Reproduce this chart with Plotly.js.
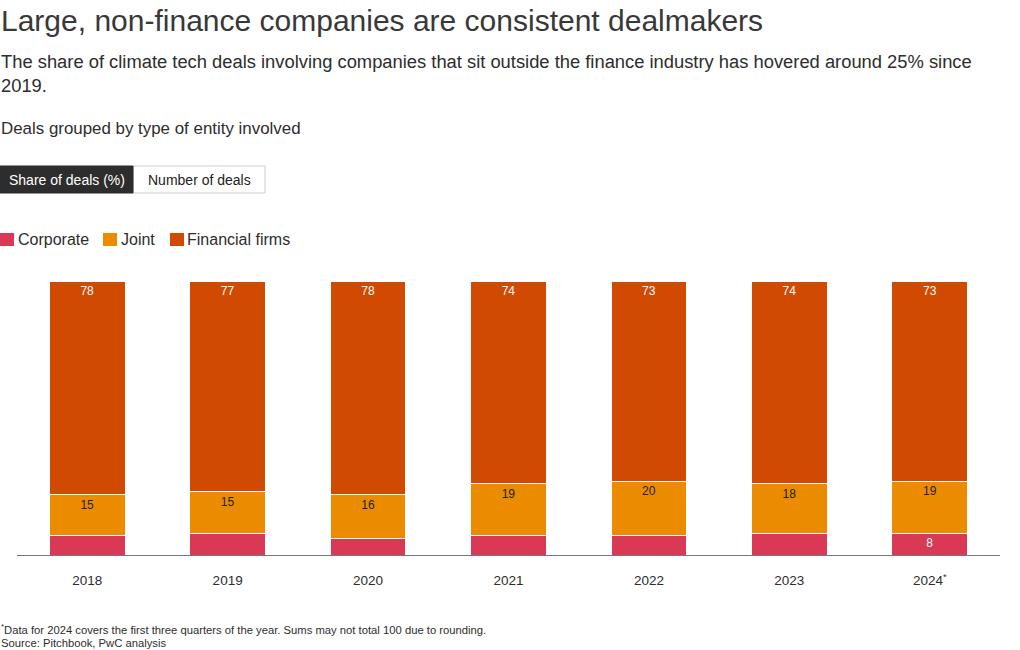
<!DOCTYPE html>
<html>
<head>
<meta charset="utf-8">
<script src="https://cdn.plot.ly/plotly-3.0.1.min.js"></script>
<style>
html,body{margin:0;padding:0;background:#fff;}
#chart{width:1020px;height:650px;}
</style>
</head>
<body>
<div id="chart"></div>
<script>
// ---- data ----
var years = ['2018', '2019', '2020', '2021', '2022', '2023', '2024'];
var yearLabels = ['2018', '2019', '2020', '2021', '2022', '2023', '2024<sup>*</sup>'];
var corporate = [7, 8, 6, 7, 7, 8, 8];
var joint = [15, 15, 16, 19, 20, 18, 19];
var financial = [78, 77, 78, 74, 73, 74, 73];
var corporateShown = [false, false, false, false, false, false, true];

var FONT = 'Liberation Sans, Arial, Helvetica, sans-serif';
var C_CORP = '#d93954', C_JOINT = '#eb8c00', C_FIN = '#d04a02';
var TXT = '#2d2d2d';

// plot area geometry (pixels) for positioning header items in paper coords
var L = 17, W = 983, BOT = 555, H = 274;
function px(x){ return (x - L) / W; }
function py(y){ return (BOT - y) / H; }

function barTrace(name, vals, color, labels, tcolor){
  return {
    type: 'bar', name: name, x: years, y: vals,
    marker: {color: color, line: {color: '#ffffff', width: 1}},
    text: labels, textposition: 'inside', insidetextanchor: 'end',
    textfont: {family: FONT, size: 12, color: tcolor},
    constraintext: 'none', cliponaxis: false,
    hoverinfo: 'x+y+name'
  };
}

var traces = [
  barTrace('Corporate', corporate, C_CORP, corporate.map(function(v,i){return corporateShown[i] ? String(v) : '';}), '#ffffff'),
  barTrace('Joint', joint, C_JOINT, joint.map(String), '#222222'),
  barTrace('Financial firms', financial, C_FIN, financial.map(String), '#ffffff')
];

var ann = [];
function note(text, x, y, size, color, anchor){
  ann.push({text: text, xref: 'paper', yref: 'paper', x: x, y: y,
    xanchor: anchor || 'left', yanchor: 'middle', showarrow: false,
    font: {family: FONT, size: size, color: color || TXT}});
}
note('Large, non-finance companies are consistent dealmakers', px(-1), py(20), 30, '#383838');
note('The share of climate tech deals involving companies that sit outside the finance industry has hovered around 25% since', px(-1), py(61), 18.35);
note('2019.', px(-1), py(86), 18.35);
note('Deals grouped by type of entity involved', px(-1), py(128), 16.9);
note('Share of deals (%)', px(66.5), py(180), 14, '#ffffff', 'center');
note('Number of deals', px(199), py(180), 14, '#222222', 'center');
note('Corporate', px(16), py(239), 16);
note('Joint', px(119), py(239), 16);
note('Financial firms', px(185), py(239), 16);
note('<sup>*</sup>Data for 2024 covers the first three quarters of the year. Sums may not total 100 due to rounding.', px(-1), py(629), 11.25);
note('Source: Pitchbook, PwC analysis', px(-1), py(643), 11.25);

var shapes = [
  {type: 'rect', xref: 'paper', yref: 'paper', x0: px(133), x1: px(265), y0: py(193), y1: py(166),
   fillcolor: '#ffffff', line: {color: '#cccccc', width: 1}},
  {type: 'rect', xref: 'paper', yref: 'paper', x0: px(0), x1: px(133), y0: py(193), y1: py(166),
   fillcolor: '#2d2d2d', line: {color: '#2d2d2d', width: 1}},
  {type: 'rect', xref: 'paper', yref: 'paper', x0: px(0), x1: px(14), y0: py(246), y1: py(233),
   fillcolor: C_CORP, line: {width: 0}},
  {type: 'rect', xref: 'paper', yref: 'paper', x0: px(103), x1: px(117), y0: py(246), y1: py(233),
   fillcolor: C_JOINT, line: {width: 0}},
  {type: 'rect', xref: 'paper', yref: 'paper', x0: px(170), x1: px(184), y0: py(246), y1: py(233),
   fillcolor: C_FIN, line: {width: 0}}
];

var layout = {
  width: 1020, height: 650,
  margin: {l: L, r: 1020 - L - W, t: BOT - H, b: 650 - BOT, pad: 0},
  paper_bgcolor: '#ffffff', plot_bgcolor: '#ffffff',
  barmode: 'stack', bargap: 0.46,
  showlegend: false,
  font: {family: FONT, color: TXT},
  xaxis: {
    type: 'category', tickmode: 'array', tickvals: years, ticktext: yearLabels,
    showline: true, linecolor: '#777777', linewidth: 1,
    ticks: '', showgrid: false, zeroline: false,
    tickfont: {family: FONT, size: 13.5, color: TXT},
    ticklabelstandoff: 13, fixedrange: true
  },
  yaxis: {
    range: [0, 100], showticklabels: false, showgrid: false, zeroline: false,
    showline: false, ticks: '', fixedrange: true
  },
  annotations: ann,
  shapes: shapes
};

Plotly.newPlot('chart', traces, layout, {displayModeBar: false, responsive: false});
</script>
</body>
</html>
